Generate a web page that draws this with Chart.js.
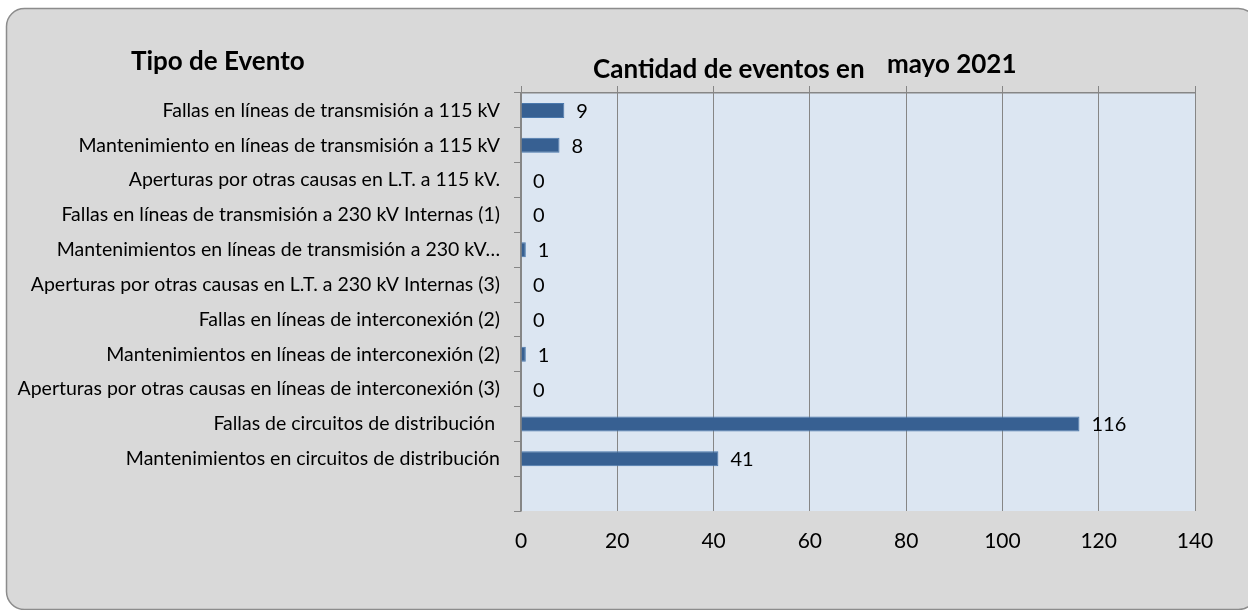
<!DOCTYPE html>
<html>
<head>
<meta charset="utf-8">
<script src="https://cdn.jsdelivr.net/npm/chart.js@4/dist/chart.umd.min.js"></script>
<style>
  body { margin: 0; background: #fff; }
  #wrap { width: 1248px; height: 610px; }
</style>
</head>
<body>
<div id="wrap"><canvas id="myChart" width="1248" height="610"></canvas></div>
<script>
// DATA
const categories = [
  'Fallas en líneas de transmisión a 115 kV',
  'Mantenimiento en líneas de transmisión a 115 kV',
  'Aperturas por otras causas en L.T. a 115 kV.',
  'Fallas en líneas de transmisión a 230 kV Internas (1)',
  'Mantenimientos en líneas de transmisión a 230 kV…',
  'Aperturas por otras causas en L.T. a 230 kV Internas (3)',
  'Fallas en líneas de interconexión (2)',
  'Mantenimientos en líneas de interconexión (2)',
  'Aperturas por otras causas en líneas de interconexión (3)',
  'Fallas de circuitos de distribución ',
  'Mantenimientos en circuitos de distribución',
  ''
];
const eventos = [9, 8, 0, 0, 1, 0, 0, 1, 0, 116, 41, null];
const xTicks = [0, 20, 40, 60, 80, 100, 120, 140];

const FONT = 'Lato, "Open Sans", sans-serif';
const GRID = '#868686';

// fondo gris con borde redondeado + area de trazado azul
const background = {
  id: 'background',
  beforeDraw(chart) {
    const ctx = chart.ctx;
    const a = chart.chartArea;
    ctx.save();
    ctx.fillStyle = '#ffffff';
    ctx.fillRect(0, 0, chart.width, chart.height);
    ctx.beginPath();
    ctx.roundRect(6.5, 8.5, 1250, 601, 18);
    ctx.fillStyle = '#d9d9d9';
    ctx.fill();
    ctx.lineWidth = 1.5;
    ctx.strokeStyle = '#8c8c8c';
    ctx.stroke();
    ctx.fillStyle = '#dce6f2';
    ctx.fillRect(a.left, a.top, a.right - a.left, a.bottom - a.top);
    ctx.restore();
  }
};

// titulos y etiquetas de valores
const texts = {
  id: 'texts',
  afterDatasetsDraw(chart) {
    const ctx = chart.ctx;
    ctx.save();
    ctx.fillStyle = '#000';
    ctx.textBaseline = 'middle';
    ctx.textAlign = 'left';
    ctx.font = 'bold 26px ' + FONT;
    ctx.fillText('Tipo de Evento', 131, 62);
    ctx.fillText('Cantidad de eventos en', 593, 70);
    ctx.fillText('mayo 2021', 887, 65);

    ctx.font = '20px ' + FONT;
    const meta = chart.getDatasetMeta(0);
    meta.data.forEach((bar, i) => {
      const v = eventos[i];
      if (v === null) return;
      ctx.fillText(String(v), bar.x + 12, bar.y + 1);
    });
    ctx.restore();
  }
};

const data = {
  labels: categories,
  datasets: [{
    label: 'Cantidad de eventos',
    data: eventos,
    backgroundColor: '#376092',
    borderColor: '#4a78ad',
    borderWidth: 1,
    categoryPercentage: 1,
    barPercentage: 0.43
  }]
};

const config = {
  type: 'bar',
  data,
  options: {
    indexAxis: 'y',
    responsive: false,
    animation: false,
    layout: { padding: { left: 0, right: 53, top: 0, bottom: 0 } },
    plugins: {
      legend: { display: false },
      tooltip: { enabled: false }
    },
    scales: {
      x: {
        position: 'bottom',
        min: 0,
        max: 140,
        afterBuildTicks: (s) => { s.ticks = xTicks.map(v => ({ value: v })); },
        afterFit: (s) => { s.height = 99; },
        grid: { color: GRID, lineWidth: 1, drawTicks: false },
        border: { display: false },
        ticks: { color: '#000', font: { family: FONT, size: 21 }, padding: 18 }
      },
      x2: {
        position: 'top',
        axis: 'x',
        min: 0,
        max: 140,
        afterBuildTicks: (s) => { s.ticks = xTicks.map(v => ({ value: v })); },
        afterFit: (s) => { s.height = 93; },
        grid: { color: GRID, drawOnChartArea: false, drawTicks: true, tickLength: 7 },
        border: { display: true, color: GRID, width: 1.5 },
        ticks: { display: false }
      },
      y: {
        afterFit: (s) => { s.width = 521; },
        grid: { color: GRID, drawOnChartArea: false, tickLength: 7, offset: true },
        border: { display: true, color: GRID, width: 1.5 },
        ticks: { color: '#000', font: { family: FONT, size: 19.5 }, padding: 14, autoSkip: false }
      }
    }
  },
  plugins: [background, texts]
};

//RENDER
let myChart = new Chart(
  document.getElementById('myChart'),
  config
);
</script>
</body>
</html>
